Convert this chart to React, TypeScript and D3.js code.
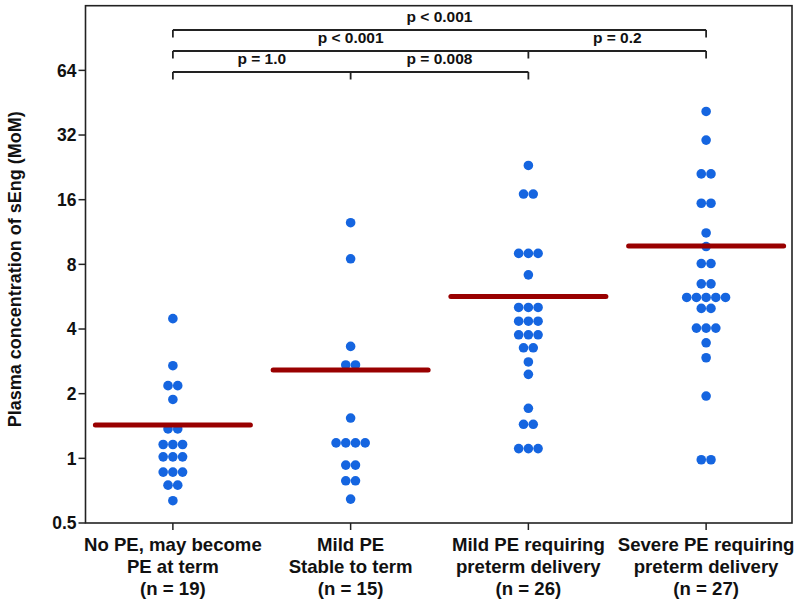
import React from "react";
import * as d3 from "d3";

const categories = [
  ["No PE, may become", "PE at term", "(n = 19)"],
  ["Mild PE", "Stable to term", "(n = 15)"],
  ["Mild PE requiring", "preterm delivery", "(n = 26)"],
  ["Severe PE requiring", "preterm delivery", "(n = 27)"],
];

const group1 = [4.47, 2.7, 2.18, 2.18, 1.88, 1.37, 1.37, 1.16, 1.16, 1.16, 1.016, 1.016, 1.016, 0.863, 0.863, 0.863, 0.75, 0.75, 0.635];
const group2 = [12.5, 8.49, 3.32, 2.72, 2.72, 1.54, 1.18, 1.18, 1.18, 1.18, 0.93, 0.93, 0.786, 0.786, 0.646];
const group3 = [23.1, 17.0, 17.0, 9.0, 9.0, 9.0, 7.15, 5.04, 5.04, 5.04, 4.35, 4.35, 4.35, 3.76, 3.76, 3.76, 3.27, 3.27, 2.81, 2.46, 1.71, 1.44, 1.44, 1.11, 1.11, 1.11];
const group4 = [41.2, 30.3, 21.1, 21.1, 15.4, 15.4, 11.2, 9.68, 8.07, 8.07, 6.49, 6.49, 5.61, 5.61, 5.61, 5.61, 5.61, 4.99, 4.99, 4.04, 4.04, 4.04, 3.45, 2.94, 1.95, 0.985, 0.985];
const groups = [group1, group2, group3, group4];
const medians = [1.43, 2.58, 5.67, 9.75];

const yTicks = [0.5, 1, 2, 4, 8, 16, 32, 64];

// comparisons: [level, from group, to group, label]
const comparisons: [number, number, number, string][] = [
  [0, 0, 3, "p < 0.001"],
  [1, 0, 2, "p < 0.001"],
  [1, 2, 3, "p = 0.2"],
  [2, 0, 1, "p = 1.0"],
  [2, 1, 2, "p = 0.008"],
];

const W = 800;
const H = 605;
const M = { left: 85.5, right: 792, top: 5.7, bottom: 523 };
const FONT = "'Liberation Sans', Arial, Helvetica, sans-serif";
const DOT_COLOR = "#1565e0";
const MED_COLOR = "#990000";
const R = 4.8;
const DX = 9.7;
const BRACKET_Y = [30, 51, 72];
const TICK_LEN = 7.5;

export default function App() {
  const x = d3
    .scaleBand<number>()
    .domain(categories.map((_, i) => i))
    .range([84, 795])
    .padding(0);
  const y = d3.scaleLog().base(2).domain([0.5, 128]).range([M.bottom, M.top]);
  const cx = (i: number) => (x(i) as number) + x.bandwidth() / 2;

  const dots: { x: number; y: number; key: string }[] = [];
  groups.forEach((g, gi) => {
    const rows = d3.groups(g, (v) => v);
    rows.forEach(([v, arr]) => {
      const n = arr.length;
      arr.forEach((_, k) => {
        dots.push({
          x: cx(gi) + (k - (n - 1) / 2) * DX,
          y: y(v),
          key: `${gi}-${v}-${k}`,
        });
      });
    });
  });

  const medHalf = 77.5;
  const levels = d3.groups(comparisons, (c) => c[0]);

  return (
    <svg
      width={W}
      height={H}
      style={{ position: "absolute", left: 0, top: 0, background: "#fff" }}
      fontFamily={FONT}
    >
      <rect x={0} y={0} width={W} height={H} fill="#fff" />
      <rect
        x={M.left}
        y={M.top}
        width={M.right - M.left}
        height={M.bottom - M.top}
        fill="none"
        stroke="#222"
        strokeWidth={1.6}
      />
      {yTicks.map((t) => (
        <g key={t}>
          <line x1={M.left - 7} x2={M.left} y1={y(t)} y2={y(t)} stroke="#222" strokeWidth={1.5} />
          <text
            x={M.left - 9}
            y={y(t)}
            dy="0.36em"
            textAnchor="end"
            fontSize={17.5}
            fontWeight="bold"
            fill="#111"
          >
            {t}
          </text>
        </g>
      ))}
      {categories.map((lines, i) => (
        <g key={i}>
          <line x1={cx(i)} x2={cx(i)} y1={M.bottom} y2={M.bottom + 7} stroke="#222" strokeWidth={1.5} />
          {lines.map((l, j) => (
            <text
              key={j}
              x={cx(i)}
              y={551 + j * 22}
              textAnchor="middle"
              fontSize={18.6}
              fontWeight="bold"
              fill="#111"
            >
              {l}
            </text>
          ))}
        </g>
      ))}
      <text
        transform={`translate(21,${(M.top + M.bottom) / 2 + 5}) rotate(-90)`}
        textAnchor="middle"
        fontSize={18}
        fontWeight="bold"
        fill="#111"
      >
        Plasma concentration of sEng (MoM)
      </text>
      {dots.map((d) => (
        <circle key={d.key} cx={d.x} cy={d.y} r={R} fill={DOT_COLOR} />
      ))}
      {medians.map((m, i) => (
        <line
          key={i}
          x1={cx(i) - medHalf}
          x2={cx(i) + medHalf}
          y1={y(m)}
          y2={y(m)}
          stroke={MED_COLOR}
          strokeWidth={5}
          strokeLinecap="round"
        />
      ))}
      {levels.map(([lvl, comps]) => {
        const by = BRACKET_Y[lvl];
        const ends = Array.from(new Set(comps.flatMap((c) => [c[1], c[2]])));
        const x0 = cx(d3.min(ends) as number);
        const x1 = cx(d3.max(ends) as number);
        return (
          <g key={lvl}>
            <line x1={x0} x2={x1} y1={by} y2={by} stroke="#222" strokeWidth={1.8} />
            {ends.map((e) => (
              <line key={e} x1={cx(e)} x2={cx(e)} y1={by} y2={by + TICK_LEN} stroke="#222" strokeWidth={1.8} />
            ))}
            {comps.map((c, k) => (
              <text
                key={k}
                x={(cx(c[1]) + cx(c[2])) / 2}
                y={by - 8}
                textAnchor="middle"
                fontSize={15.5}
                fontWeight="bold"
                fill="#111"
              >
                {c[3]}
              </text>
            ))}
          </g>
        );
      })}
    </svg>
  );
}
